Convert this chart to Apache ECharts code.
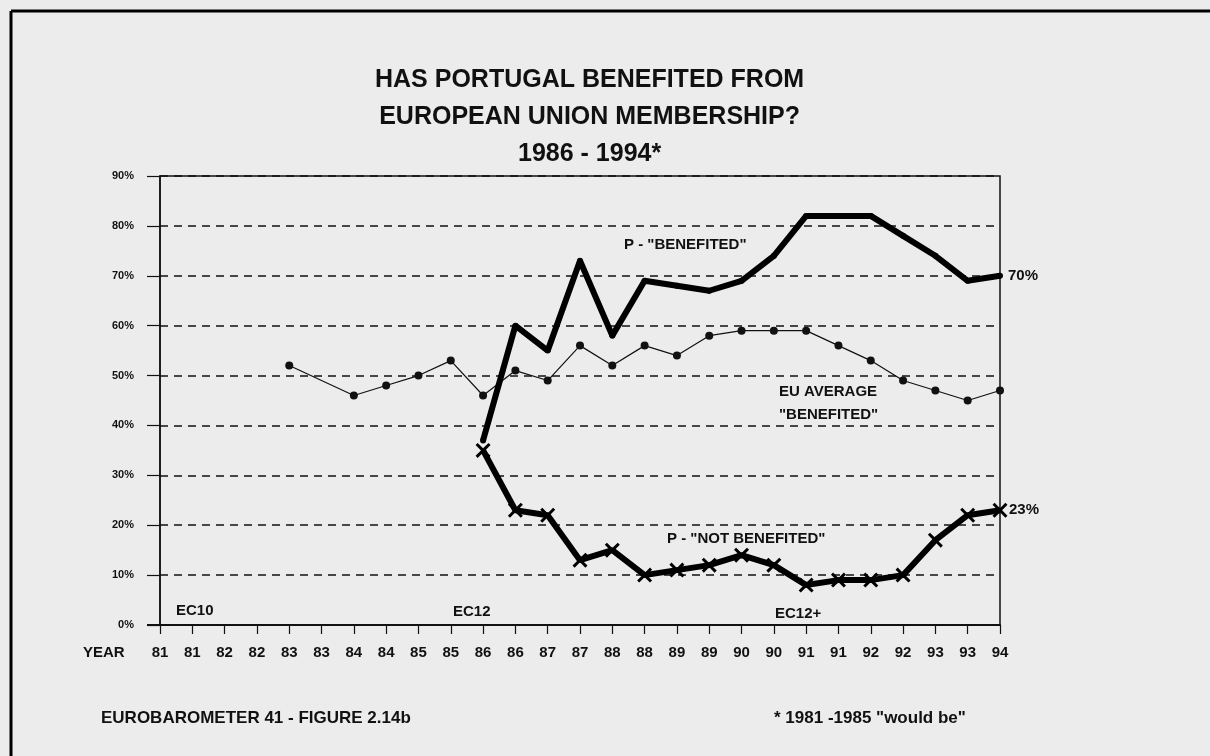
<!DOCTYPE html>
<html>
<head>
<meta charset="utf-8">
<script src="https://cdn.jsdelivr.net/npm/echarts@6/dist/echarts.min.js"></script>
<style>
html,body{margin:0;padding:0;background:#ececec;}
#chart{width:1210px;height:756px;}
</style>
</head>
<body>
<div id="chart"></div>
<script>
const years = ['81','81','82','82','83','83','84','84','85','85','86','86','87','87','88','88','89','89','90','90','91','91','92','92','93','93','94'];
const pBenefited = [null,null,null,null,null,null,null,null,null,null,37,60,55,73,58,69,68,67,69,74,82,82,82,78,74,69,70];
const pNotBenefited = [null,null,null,null,null,null,null,null,null,null,35,23,22,13,15,10,11,12,14,12,8,9,9,10,17,22,23];
const euAverage = [null,null,null,null,52,null,46,48,50,53,46,51,49,56,52,56,54,58,59,59,59,56,53,49,47,45,47];
const yTicks = [0,10,20,30,40,50,60,70,80,90];

const FONT = "'Liberation Sans',Arial,sans-serif";
const chart = echarts.init(document.getElementById('chart'));

const crossPath = 'path://M0,1.4L1.4,0L5,3.6L8.6,0L10,1.4L6.4,5L10,8.6L8.6,10L5,6.4L1.4,10L0,8.6L3.6,5Z';

function txt(x, y, text, size, extra) {
  return {
    type: 'text', left: x, top: y, silent: true,
    style: Object.assign({ text: text, fill: '#111', font: 'bold ' + size + 'px ' + FONT }, extra || {})
  };
}

chart.setOption({
  backgroundColor: '#ececec',
  animation: false,
  grid: { left: 160, right: 210, top: 176, bottom: 131, show: true, borderColor: '#111', borderWidth: 1.5, backgroundColor: 'transparent' },
  xAxis: {
    type: 'category', data: years, boundaryGap: false,
    axisLine: { lineStyle: { color: '#111', width: 2 } },
    axisTick: { show: true, length: 9, interval: 0, lineStyle: { color: '#111', width: 1.2 } },
    axisLabel: { interval: 0, margin: 20, color: '#111', fontFamily: FONT, fontWeight: 'bold', fontSize: 15 },
    splitLine: { show: false }
  },
  yAxis: {
    type: 'value', min: yTicks[0], max: yTicks[yTicks.length - 1], interval: 10,
    axisLine: { show: true, lineStyle: { color: '#111', width: 1.5 } },
    axisTick: { show: true, length: 13, lineStyle: { color: '#111', width: 1.2 } },
    axisLabel: { formatter: '{value}%', margin: 26, color: '#111', fontFamily: FONT, fontWeight: 'bold', fontSize: 11 },
    splitLine: { show: true, lineStyle: { color: '#111', width: 1.5, type: [8, 6] } }
  },
  series: [
    {
      name: 'EU AVERAGE "BENEFITED"', type: 'line', data: euAverage, connectNulls: true,
      symbol: 'circle', symbolSize: 8, showAllSymbol: true,
      lineStyle: { color: '#111', width: 1.2 }, itemStyle: { color: '#111' }, z: 3
    },
    {
      name: 'P - "BENEFITED"', type: 'line', data: pBenefited,
      symbol: 'circle', symbolSize: 6, showAllSymbol: true,
      lineStyle: { color: '#000', width: 6 }, itemStyle: { color: '#000' }, z: 4,
      endLabel: { show: true, formatter: '{c}%', distance: 8, color: '#111', fontFamily: FONT, fontWeight: 'bold', fontSize: 15 }
    },
    {
      name: 'P - "NOT BENEFITED"', type: 'line', data: pNotBenefited,
      symbol: crossPath, symbolSize: 15, showAllSymbol: true,
      lineStyle: { color: '#000', width: 6 }, itemStyle: { color: '#000' }, z: 4,
      endLabel: { show: true, formatter: '{c}%', distance: 9, color: '#111', fontFamily: FONT, fontWeight: 'bold', fontSize: 15 }
    }
  ],
  graphic: [
    { type: 'line', silent: true, shape: { x1: 11, y1: 11, x2: 1210, y2: 11 }, style: { stroke: '#000', lineWidth: 3 } },
    { type: 'line', silent: true, shape: { x1: 11, y1: 11, x2: 11, y2: 756 }, style: { stroke: '#000', lineWidth: 3 } },
    { type: 'line', silent: true, shape: { x1: 147, y1: 625, x2: 160, y2: 625 }, style: { stroke: '#111', lineWidth: 2 } },
    { type: 'text', silent: true, left: 375, top: 62, style: { text: 'HAS PORTUGAL BENEFITED FROM\nEUROPEAN UNION MEMBERSHIP?\n1986 - 1994*', textAlign: 'center', lineHeight: 37, fill: '#111', font: 'bold 25px ' + FONT } },
    txt(83, 645, 'YEAR', 15),
    txt(176, 603, 'EC10', 15),
    txt(453, 604, 'EC12', 15),
    txt(775, 606, 'EC12+', 15),
    txt(624, 237, 'P - "BENEFITED"', 15),
    txt(779, 380, 'EU AVERAGE\n"BENEFITED"', 15, { lineHeight: 23 }),
    txt(667, 531, 'P - "NOT BENEFITED"', 15),
    txt(101, 710, 'EUROBAROMETER 41 - FIGURE 2.14b', 17),
    txt(774, 710, '* 1981 -1985 "would be"', 17)
  ]
});
</script>
</body>
</html>
